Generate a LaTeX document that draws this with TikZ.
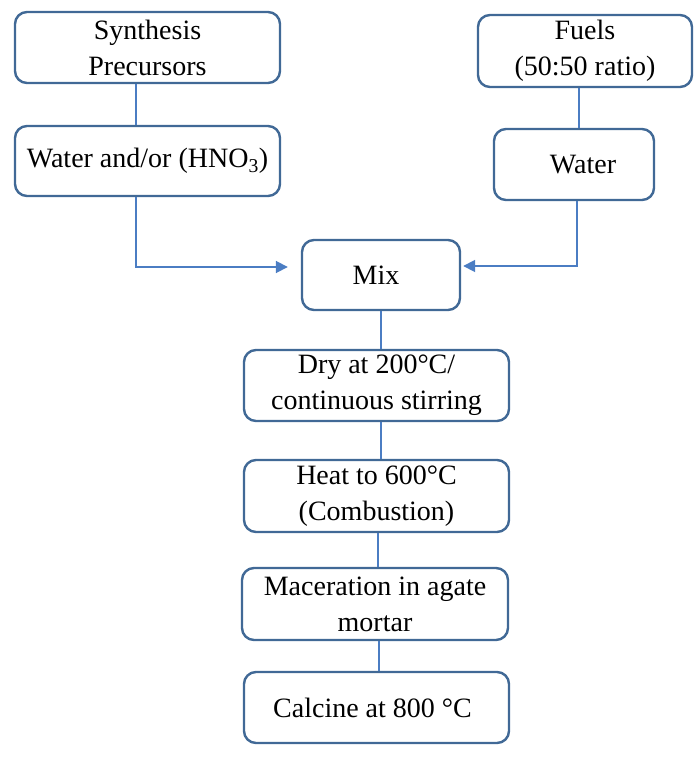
\documentclass[tikz,border=0pt]{standalone}
\usepackage{fontspec}
\setmainfont{Liberation Serif}
\usetikzlibrary{arrows.meta}
\definecolor{boxblue}{RGB}{65,105,150}
\definecolor{linkblue}{RGB}{75,125,195}
\tikzset{
  stepbox/.style={draw=boxblue, line width=2.4pt, rounded corners=12pt, fill=white,
    align=center, inner sep=0pt, font=\fontsize{28}{36}\selectfont},
  link/.style={draw=linkblue, line width=1.8pt},
  arrowlink/.style={link, -{Triangle[length=12pt,width=12pt]}}
}
\begin{document}
\begin{tikzpicture}[x=1pt,y=-1pt]
\useasboundingbox (0,0) rectangle (700,759);
\node[stepbox, minimum width=265pt, minimum height=71pt] (syn) at (147.5,47.5) {Synthesis\\Precursors};
\node[stepbox, minimum width=265pt, minimum height=70pt] (wat1) at (147.5,161) {Water and/or (HNO\textsubscript{3})};
\node[stepbox, minimum width=214pt, minimum height=72pt] (fuel) at (585,51) {Fuels\\(50:50 ratio)};
\node[stepbox, minimum width=160pt, minimum height=71pt] (wat2) at (574,164.5) {\hspace*{18pt}Water};
\node[stepbox, minimum width=158pt, minimum height=70pt] (mix) at (381,275) {Mix\hspace*{10pt}};
\node[stepbox, minimum width=265pt, minimum height=71pt] (dry) at (376.5,385.5) {Dry at 200°C/\\continuous stirring};
\node[stepbox, minimum width=265pt, minimum height=72pt] (heat) at (376.5,496) {Heat to 600°C\\(Combustion)};
\node[stepbox, minimum width=266pt, minimum height=72pt] (mac) at (375,604) {Maceration in agate\\mortar};
\node[stepbox, minimum width=265pt, minimum height=71pt] (cal) at (376.5,707.5) {\raisebox{-6pt}{Calcine at 800 °C}\hspace*{8pt}};
\draw[link] ([xshift=-11.5pt]syn.south) -- ([xshift=-11.5pt]wat1.north);
\draw[link] ([xshift=-6pt]fuel.south) -- ([xshift=5pt]wat2.north);
\draw[arrowlink, shorten >=13pt] ([xshift=-11.5pt]wat1.south) |- ([yshift=8pt]mix.west);
\draw[arrowlink] ([xshift=3pt]wat2.south) |- ([yshift=9pt,xshift=2pt]mix.east);
\draw[link] (mix.south) -- (mix.south |- dry.north);
\draw[link] ([xshift=4.5pt]dry.south) -- ([xshift=4.5pt]heat.north);
\draw[link] ([xshift=1.5pt]heat.south) -- ([xshift=3pt]mac.north);
\draw[link] ([xshift=4pt]mac.south) -- ([xshift=2.5pt]cal.north);
\end{tikzpicture}
\end{document}
